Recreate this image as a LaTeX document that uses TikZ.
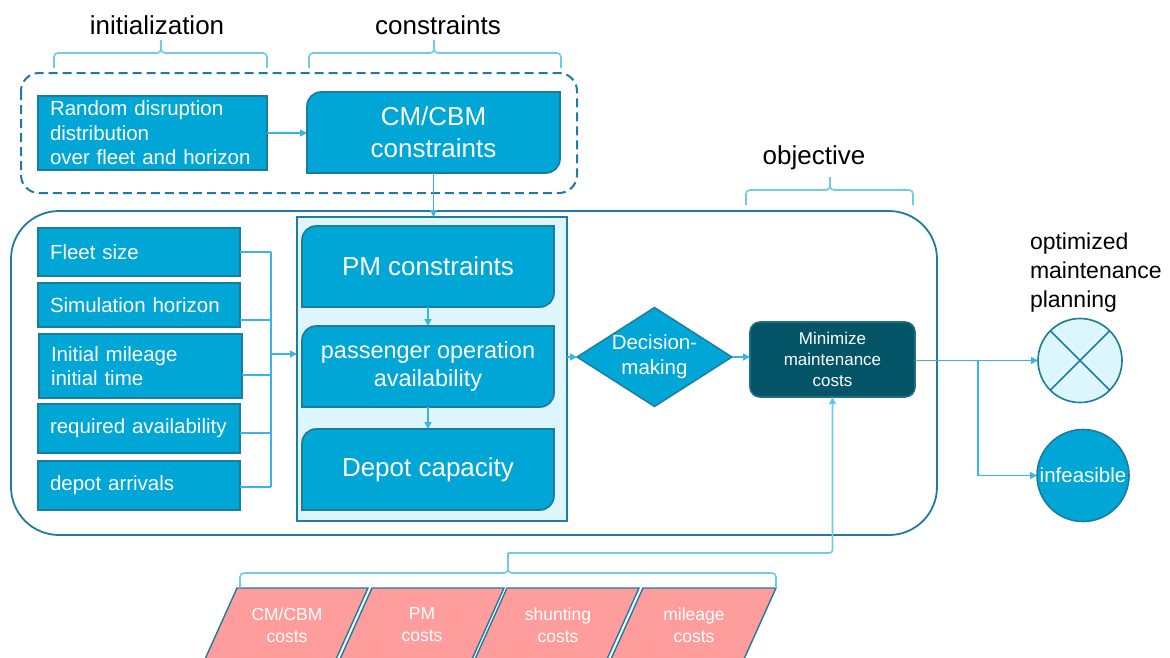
\documentclass[tikz,border=0pt]{standalone}
\usepackage{fontspec}
\setmainfont{Liberation Sans}
\usetikzlibrary{shapes.geometric,arrows.meta}

\definecolor{boxblue}{HTML}{00A6D6}
\definecolor{boxedge}{HTML}{1B7C9E}
\definecolor{darkteal}{HTML}{045468}
\definecolor{darkedge}{HTML}{1C6F86}
\definecolor{paleblue}{HTML}{DDF5FC}
\definecolor{linkblue}{HTML}{3BB4E2}
\definecolor{bracecol}{HTML}{6FCBE8}
\definecolor{salmon}{HTML}{FF9D9D}
\definecolor{framecol}{HTML}{1F7BA0}

\newcommand\fs[2]{\fontsize{#1}{#2}\selectfont}

% box with rounded top-left and bottom-right corners: x1 y1 x2 y2
\newcommand\tlbrbox[4]{%
  \path[snipfill] (#1,#4) -- (#1,{#2+14}) .. controls (#1,{#2+6.3}) and ({#1+6.3},#2) .. ({#1+14},#2)
    -- (#3,#2) -- (#3,{#4-14}) .. controls (#3,{#4-6.3}) and ({#3-6.3},#4) .. ({#3-14},#4) -- cycle;}

% flat curly brace, tips pointing down: x1 x2 cusp-x y-tip y-line y-cusp
\newcommand\flatbrace[6]{%
  \draw[bracestyle] (#1,#4) |- (#3,#5) -- (#3,#6);
  \draw[bracestyle] (#2,#4) |- (#3,#5) -- (#3,#6);}

% slanted cost block: top-left x, top-right x
\newcommand\costblock[2]{%
  \path[costshape] (#1,588) -- (#2,588) -- ({#2-50.4},700) -- ({#1-50.4},700) -- cycle;}

\tikzset{
  every node/.style={inner sep=0pt, outer sep=0pt},
  lbl/.style={font=\fs{26}{31}, text=black},
  inbox/.style={draw=boxedge, line width=1.6pt, fill=boxblue, text=white,
    anchor=north west, align=left, inner xsep=12pt, font=\fs{20.5}{24.5}},
  snipfill/.style={draw=boxedge, line width=1.6pt, fill=boxblue},
  sniptext/.style={text=white, align=center},
  link/.style={draw=linkblue, line width=1.4pt},
  arr/.style={link, -{Triangle[length=7pt,width=7pt]}},
  bracestyle/.style={draw=bracecol, line width=1.6pt, rounded corners=4pt},
  costshape/.style={draw=boxedge, line width=1.4pt, fill=salmon},
  costtext/.style={text=white, align=center, font=\fs{17.5}{22}},
}

\begin{document}
\begin{tikzpicture}[x=1pt,y=-1pt]
\useasboundingbox (0,0) rectangle (1170,657);

% ---- group labels and braces
\node[lbl, anchor=base] (tinit) at (157,34) {initialization};
\node[lbl, anchor=base] (tcons) at (438,34) {constraints};
\node[lbl, anchor=base] (tobj) at (814,164) {objective};
\flatbrace{54}{267}{161}{68}{53}{40}
\flatbrace{309}{561}{434}{68}{53}{40}
\flatbrace{746}{913}{830}{205}{190}{177}

% ---- initialization / constraints frame
\draw[draw=framecol, line width=2pt, dash pattern=on 9pt off 5pt, rounded corners=18pt]
  (21,73) rectangle (577,193);
\node[inbox, text width=205pt, minimum height=74pt] (rand) at (38,96)
  {Random disruption\\distribution\\over fleet and horizon};
\tlbrbox{307}{92}{560}{173}
\node[sniptext, minimum width=253pt, minimum height=81pt, font=\fs{26}{32}] (cmcbm)
  at (433.5,132.5) {CM/CBM\\constraints};

% ---- main frame
\draw[draw=framecol, line width=1.8pt, rounded corners=48pt] (11,211) rectangle (937,535);

% ---- input parameters
\node[inbox, text width=178pt, minimum height=48pt] (fleet) at (38,228) {Fleet size};
\node[inbox, text width=178pt, minimum height=44pt] (sim) at (38,283) {Simulation horizon};
\node[inbox, text width=179pt, minimum height=64pt] (init) at (39,334) {Initial mileage\\initial time};
\node[inbox, text width=178pt, minimum height=49pt] (req) at (38,404) {required availability};
\node[inbox, text width=178pt, minimum height=49pt] (dep) at (38,461) {depot arrivals};

% ---- constraint stack
\node[draw=framecol, line width=1.8pt, fill=paleblue, anchor=north west,
  minimum width=270pt, minimum height=304pt] (inner) at (297,217) {};
\tlbrbox{302}{226}{554}{307}
\tlbrbox{302}{326}{554}{407}
\tlbrbox{302}{429}{554}{510}
\node[sniptext, minimum width=252pt, minimum height=81pt, font=\fs{26}{31}] (pm)
  at (428,266.5) {PM constraints};
\node[sniptext, minimum width=252pt, minimum height=81pt, font=\fs{23.5}{28}] (pass)
  at (428,366.5) {passenger operation\\availability};
\node[sniptext, minimum width=252pt, minimum height=81pt, font=\fs{26}{31}] (cap)
  at (428,469.5) {Depot capacity};

% ---- decision and objective
\node[diamond, aspect=1.57, draw=boxedge, line width=1.4pt, fill=boxblue, text=white,
  align=center, font=\fs{20.5}{25}, minimum width=155pt, minimum height=99pt] (dm)
  at (654.5,357) {Decision-\\making};
\node[draw=darkedge, line width=1.6pt, fill=darkteal, rounded corners=10pt, text=white,
  align=center, font=\fs{17}{21}, minimum width=165pt, minimum height=75pt] (mini)
  at (832.5,359.5) {Minimize\\maintenance\\costs};

% ---- outcomes
\node[font=\fs{23}{29}, align=left, anchor=west] (optlbl) at (1030,273)
  {optimized\\maintenance\\planning};
\node[circle, draw=boxedge, line width=1.6pt, fill=paleblue, minimum size=84pt] (opt)
  at (1080,360.5) {};
\draw[draw=boxedge, line width=1.6pt] (opt.north west) -- (opt.south east)
  (opt.north east) -- (opt.south west);
\node[circle, draw=boxedge, line width=1.6pt, fill=boxblue, text=white,
  font=\fs{20.5}{24}, minimum size=92pt] (inf) at (1083,475.5) {infeasible};

% ---- cost components
\begin{scope}
  \clip (0,0) rectangle (1170,657);
  \costblock{237}{368}
  \costblock{372}{504}
  \costblock{507}{639}
  \costblock{643}{776}
\end{scope}
\node[costtext] (c1) at (287,625) {CM/CBM\\costs};
\node[costtext] (c2) at (422,625) {PM\\costs};
\node[costtext] (c3) at (558,625) {shunting\\costs};
\node[costtext] (c4) at (694,625) {mileage\\costs};
\flatbrace{240}{776}{508}{588}{573}{553}

% ---- connectors
\draw[arr] (rand.east |- 0,133) -- (cmcbm.west |- 0,133);
\draw[arr] (cmcbm.south) -- (cmcbm.south |- inner.north);

\coordinate (bus) at (271,354);
\draw[link] (fleet.east) -- (fleet.east -| bus);
\draw[link] ([yshift=-15pt]sim.east) -- ([yshift=-15pt]sim.east -| bus);
\draw[link] ([yshift=-9pt]init.east) -- ([yshift=-9pt]init.east -| bus);
\draw[link] ([yshift=-4.5pt]req.east) -- ([yshift=-4.5pt]req.east -| bus);
\draw[link] ([yshift=-1.5pt]dep.east) -- ([yshift=-1.5pt]dep.east -| bus);
\draw[link] (fleet.east -| bus) -- ([yshift=-1.5pt]dep.east -| bus);
\draw[arr] (bus) -- (bus -| inner.west);

\draw[arr] (pm.south) -- (pass.north);
\draw[arr] (pass.south) -- (cap.north);
\draw[arr] (inner.east |- dm.west) -- (dm.west);
\draw[arr] (dm.east) -- (dm.east -| mini.west);

\coordinate (split) at (978,360.5);
\draw[arr] (mini.east |- split) -- (opt.west);
\draw[arr] (split) |- (inf.west);

\coordinate (ctop) at (508,553);
\draw[draw=bracecol, line width=1.6pt, rounded corners=3pt,
  -{Triangle[length=7pt,width=7pt,fill=linkblue]}] (ctop) -| (mini.south);
\end{tikzpicture}
\end{document}
